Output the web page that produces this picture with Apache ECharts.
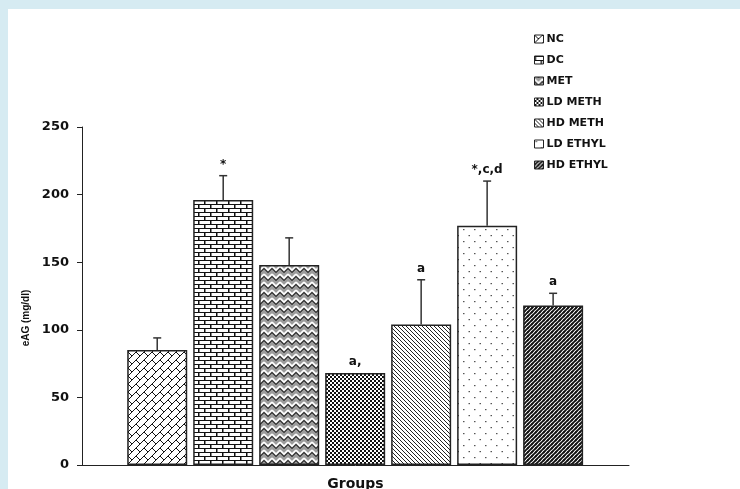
<!DOCTYPE html>
<html>
<head>
<meta charset="utf-8">
<script src="https://cdn.jsdelivr.net/npm/echarts@6/dist/echarts.min.js"></script>
<style>
  html, body { margin: 0; padding: 0; }
  #frame { position: relative; width: 740px; height: 489px; background: #d6ebf2; overflow: hidden; }
  #paper { position: absolute; left: 8px; top: 9px; right: 0; bottom: 0; background: #fff; }
  #chart { position: absolute; left: 0; top: 0; width: 740px; height: 489px; }
</style>
</head>
<body>
<div id="frame">
  <div id="paper"></div>
  <div id="chart"></div>
</div>
<script>
// groups shown as bars, left to right
var groups = ['NC', 'DC', 'MET', 'LD METH', 'HD METH', 'LD ETHYL', 'HD ETHYL'];
var means = [85, 196, 148, 68, 104, 177, 118];
var errors = [9, 18, 20, 0, 33, 33, 9];
var marks = ['', '*', '', 'a,', 'a', '*,c,d', 'a'];
var yMin = 0, yMax = 250, yStep = 50;

var boldFont = 'DejaVu Sans';

// small repeating tiles used as hatch fills
function tile(w, h, bg, draw) {
  var c = document.createElement('canvas');
  c.width = w;
  c.height = h;
  var ctx = c.getContext('2d');
  ctx.fillStyle = bg;
  ctx.fillRect(0, 0, w, h);
  for (var dx = -w; dx <= w; dx += w) {
    for (var dy = -h; dy <= h; dy += h) {
      ctx.save();
      ctx.translate(dx, dy);
      draw(ctx);
      ctx.restore();
    }
  }
  return { image: c, repeat: 'repeat' };
}

// diagonal bricks
var ncFill = tile(16, 16, '#fff', function (ctx) {
  ctx.strokeStyle = '#111';
  ctx.lineWidth = 1;
  ctx.beginPath();
  for (var c = 0; c <= 32; c += 8) {
    ctx.moveTo(c + 16, -16);
    ctx.lineTo(-16, c + 16);
  }
  for (var k = 0; k < 4; k++) {
    var s0 = 8 * k, s1 = 8 * k + 8;
    for (var d = -32; d <= 32; d += 16) {
      var dd = d + (k % 2) * 8;
      ctx.moveTo((s0 + dd) / 2, (s0 - dd) / 2);
      ctx.lineTo((s1 + dd) / 2, (s1 - dd) / 2);
    }
  }
  ctx.stroke();
});

// horizontal bricks
var dcFill = tile(12, 8, '#fff', function (ctx) {
  ctx.fillStyle = '#111';
  ctx.fillRect(0, 0, 12, 1);
  ctx.fillRect(0, 4, 12, 1);
  ctx.fillRect(0, 0, 1.5, 4);
  ctx.fillRect(6, 4, 1.5, 4);
});

// grey zigzag weave
var metFill = tile(8, 8, '#9c9c9c', function (ctx) {
  ctx.lineWidth = 1.6;
  ctx.strokeStyle = '#fff';
  ctx.beginPath();
  ctx.moveTo(0, 2); ctx.lineTo(4, 6); ctx.lineTo(8, 2);
  ctx.stroke();
  ctx.lineWidth = 0.9;
  ctx.strokeStyle = '#222';
  ctx.beginPath();
  ctx.moveTo(0, 4.5); ctx.lineTo(4, 8.5); ctx.lineTo(8, 4.5);
  ctx.moveTo(0, -3.5); ctx.lineTo(4, 0.5); ctx.lineTo(8, -3.5);
  ctx.stroke();
});

// checkerboard
var ldMethFill = tile(4, 4, '#111', function (ctx) {
  ctx.fillStyle = '#fff';
  ctx.fillRect(0, 0, 2, 2);
  ctx.fillRect(2, 2, 2, 2);
});

// thin back-slash lines
var hdMethFill = tile(4, 4, '#fff', function (ctx) {
  ctx.strokeStyle = '#222';
  ctx.lineWidth = 1;
  ctx.beginPath();
  ctx.moveTo(-1, -1);
  ctx.lineTo(5, 5);
  ctx.stroke();
});

// sparse dots
var ldEthylFill = tile(11, 12, '#fff', function (ctx) {
  ctx.fillStyle = '#555';
  ctx.fillRect(1, 1, 1.5, 1.2);
  ctx.fillRect(6.5, 7, 1.5, 1.2);
});

// thick forward-slash lines
var hdEthylFill = tile(4, 4, '#fff', function (ctx) {
  ctx.strokeStyle = '#111';
  ctx.lineWidth = 1.7;
  ctx.beginPath();
  ctx.moveTo(-1, 5);
  ctx.lineTo(5, -1);
  ctx.stroke();
});

var fills = [ncFill, dcFill, metFill, ldMethFill, hdMethFill, ldEthylFill, hdEthylFill];

var chart = echarts.init(document.getElementById('chart'), null, { renderer: 'canvas' });

var series = groups.map(function (name, i) {
  return {
    name: name,
    type: 'bar',
    barWidth: 60,
    barGap: '-100%',
    data: [[i, means[i]]],
    itemStyle: {
      color: fills[i],
      borderColor: '#222',
      borderWidth: 1.5
    },
    emphasis: { disabled: true }
  };
});

series.push({
  name: 'error',
  type: 'custom',
  z: 5,
  silent: true,
  data: means.map(function (m, i) { return [i, m + errors[i], m]; }),
  renderItem: function (params, api) {
    var top = api.coord([api.value(0), api.value(1)]);
    var base = api.coord([api.value(0), api.value(2)]);
    var children = [];
    if (api.value(1) > api.value(2)) {
      children.push({
        type: 'line',
        shape: { x1: base[0], y1: base[1], x2: top[0], y2: top[1] },
        style: { stroke: '#333', lineWidth: 1.5 }
      });
      children.push({
        type: 'line',
        shape: { x1: top[0] - 4, y1: top[1], x2: top[0] + 4, y2: top[1] },
        style: { stroke: '#333', lineWidth: 1.5 }
      });
    }
    var txt = marks[params.dataIndex];
    if (txt) {
      children.push({
        type: 'text',
        style: {
          x: top[0],
          y: top[1] - 5,
          text: txt,
          fill: '#111',
          font: 'bold 12px "' + boldFont + '"',
          textAlign: 'center',
          textVerticalAlign: 'bottom'
        }
      });
    }
    return { type: 'group', children: children };
  }
});

var option = {
  animation: false,
  grid: { left: 82, right: 111, top: 127, bottom: 24, containLabel: false, outerBoundsMode: 'none' },
  legend: {
    data: groups,
    orient: 'vertical',
    left: 529,
    top: 28,
    icon: 'rect',
    itemWidth: 9,
    itemHeight: 8,
    itemGap: 9,
    itemStyle: { borderColor: '#222', borderWidth: 1 },
    textStyle: {
      fontFamily: boldFont,
      fontWeight: 'bold',
      fontSize: 11,
      lineHeight: 12,
      color: '#111',
      padding: [0, 0, 0, -2]
    },
    selectedMode: false
  },
  xAxis: {
    type: 'value',
    min: -1.14,
    max: 7.15,
    name: 'Groups',
    nameLocation: 'middle',
    nameGap: 12,
    nameTextStyle: {
      fontFamily: boldFont,
      fontWeight: 'bold',
      fontSize: 14,
      color: '#111',
      verticalAlign: 'top'
    },
    axisLine: { show: true, lineStyle: { color: '#222', width: 1 } },
    axisTick: { show: false },
    axisLabel: { show: false },
    splitLine: { show: false }
  },
  yAxis: {
    type: 'value',
    min: yMin,
    max: yMax,
    interval: yStep,
    name: 'eAG (mg/dl)',
    nameLocation: 'middle',
    nameGap: 33,
    nameTextStyle: {
      fontFamily: 'Liberation Sans',
      fontWeight: 'bold',
      fontSize: 10,
      color: '#111',
      padding: [0, 44, 0, 0]
    },
    axisLine: { show: true, onZero: false, lineStyle: { color: '#222', width: 1 } },
    axisTick: { show: true, length: 5, lineStyle: { color: '#222' } },
    axisLabel: {
      margin: 13,
      fontFamily: boldFont,
      fontWeight: 'bold',
      fontSize: 13,
      color: '#111'
    },
    splitLine: { show: false }
  },
  series: series
};

chart.setOption(option);
</script>
</body>
</html>
